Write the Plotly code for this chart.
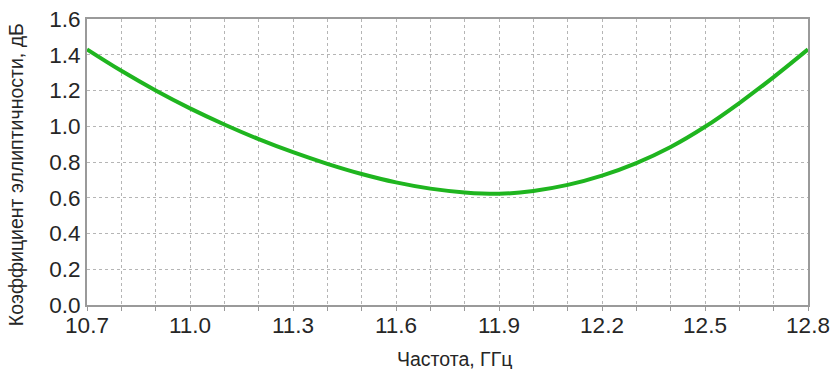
import plotly.graph_objects as go

# Frequency sweep, GHz
freq_ghz = [10.7, 10.8, 10.9, 11.0, 11.1, 11.2, 11.3, 11.4, 11.5, 11.6, 11.7,
            11.8, 11.9, 12.0, 12.1, 12.2, 12.3, 12.4, 12.5, 12.6, 12.7, 12.8]
# Axial ratio, dB
axial_ratio_db = [1.43, 1.31, 1.20, 1.10, 1.01, 0.928, 0.855, 0.79, 0.733, 0.686, 0.651,
                  0.630, 0.622, 0.638, 0.672, 0.724, 0.794, 0.884, 0.997, 1.130, 1.275, 1.43]

x_grid = [10.7, 10.8, 10.9, 11.0, 11.1, 11.2, 11.3, 11.4, 11.5, 11.6, 11.7,
          11.8, 11.9, 12.0, 12.1, 12.2, 12.3, 12.4, 12.5, 12.6, 12.7, 12.8]
x_labels = ["10.7", "", "", "11.0", "", "", "11.3", "", "", "11.6", "",
            "", "11.9", "", "", "12.2", "", "", "12.5", "", "", "12.8"]
y_ticks = [0.0, 0.2, 0.4, 0.6, 0.8, 1.0, 1.2, 1.4, 1.6]
y_labels = ["0.0", "0.2", "0.4", "0.6", "0.8", "1.0", "1.2", "1.4", "1.6"]

x_title = "Частота, ГГц"
y_title = "Коэффициент эллиптичности, дБ"

font_family = "Liberation Sans, Arial, sans-serif"
text_color = "#262626"

fig = go.Figure()
fig.add_trace(go.Scatter(
    x=freq_ghz, y=axial_ratio_db, mode="lines",
    line=dict(color="#1fb51f", width=4, shape="spline", smoothing=1.0),
    showlegend=False, hoverinfo="x+y",
))

fig.update_layout(
    width=831, height=369,
    margin=dict(l=87, r=23, t=19, b=64),
    paper_bgcolor="white", plot_bgcolor="white",
    font=dict(family=font_family, color=text_color),
    annotations=[
        dict(text=x_title, xref="paper", yref="paper", x=0.51, y=-0.145,
             xanchor="center", yanchor="top", showarrow=False,
             font=dict(size=19.5, color=text_color)),
        dict(text=y_title, xref="paper", yref="paper", x=-0.098, y=0.455,
             xanchor="center", yanchor="middle", textangle=-90, showarrow=False,
             font=dict(size=19.5, color=text_color)),
    ],
)

fig.update_xaxes(
    range=[10.7, 12.8], automargin=False,
    tickmode="array", tickvals=x_grid, ticktext=x_labels,
    ticks="outside", ticklen=4, tickcolor="#999999", tickwidth=1,
    ticklabelstandoff=-5,
    tickfont=dict(size=22.5, color=text_color),
    showgrid=True, gridcolor="#b5b5b5", griddash="dot", gridwidth=1,
    showline=True, linecolor="#9a9a9a", linewidth=2, mirror=True,
    zeroline=False,
)

fig.update_yaxes(
    range=[0.0, 1.6], automargin=False,
    tickmode="array", tickvals=y_ticks, ticktext=y_labels,
    ticks="", ticklabelstandoff=0,
    tickfont=dict(size=22.5, color=text_color),
    showgrid=True, gridcolor="#b5b5b5", griddash="dot", gridwidth=1,
    showline=True, linecolor="#9a9a9a", linewidth=2, mirror=True,
    zeroline=False,
)

fig.write_html("out.html")
